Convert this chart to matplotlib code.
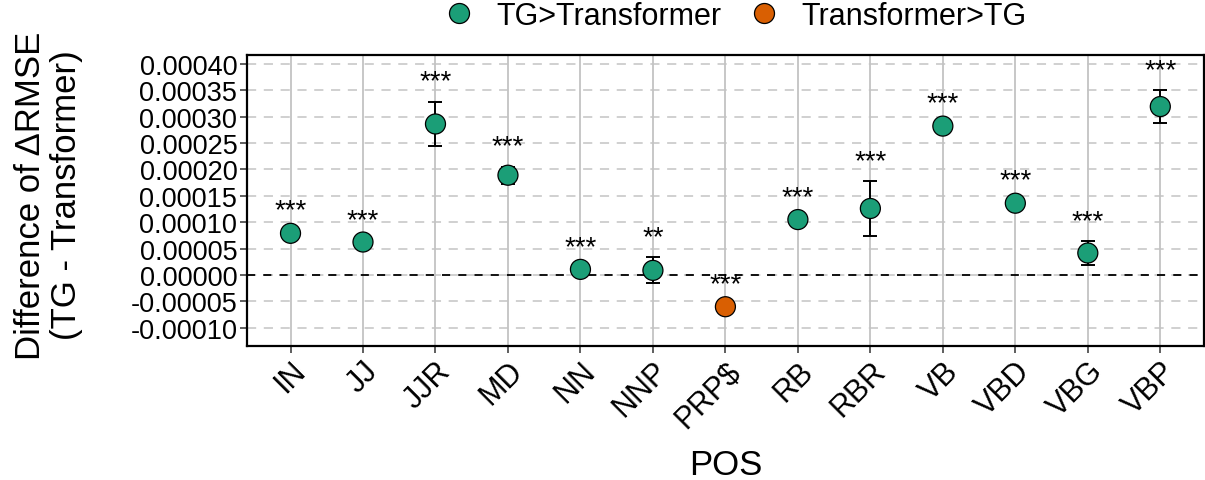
import matplotlib
matplotlib.use('Agg')
import matplotlib.pyplot as plt
from matplotlib.lines import Line2D

plt.rcParams['font.family'] = ['Liberation Sans', 'DejaVu Sans']

# POS categories and the difference in delta RMSE (TG - Transformer)
pos = ['IN', 'JJ', 'JJR', 'MD', 'NN', 'NNP', 'PRP$', 'RB', 'RBR', 'VB', 'VBD', 'VBG', 'VBP']
diff = [7.9e-5, 6.25e-5, 28.6e-5, 18.9e-5, 1.07e-5, 0.88e-5, -6.0e-5,
        10.5e-5, 12.6e-5, 28.2e-5, 13.6e-5, 4.17e-5, 31.9e-5]
se = [0.5e-5, 0.4e-5, 4.25e-5, 1.6e-5, 0.4e-5, 2.45e-5, 0.4e-5,
      0.5e-5, 5.15e-5, 0.5e-5, 0.5e-5, 2.2e-5, 3.1e-5]
sig = ['***', '***', '***', '***', '***', '**', '***',
       '***', '***', '***', '***', '***', '***']
yticks = [-0.0001, -0.00005, 0.0, 0.00005, 0.0001, 0.00015, 0.0002,
          0.00025, 0.0003, 0.00035, 0.0004]

green = '#1B9E77'
orange = '#D95F02'

fig = plt.figure(figsize=(12.05, 4.81), dpi=100)
ax = fig.add_axes([0.205, 0.279, 0.794, 0.605])

xs = list(range(len(pos)))
cols = [green if d > 0 else orange for d in diff]

ax.axhline(0, color='black', ls=(0, (4.5, 4.5)), lw=1.3, zorder=1)
ax.errorbar(xs, diff, yerr=se, fmt='none', ecolor='black', elinewidth=1.4,
            capsize=4.7, capthick=1.4, zorder=2)
ax.scatter(xs, diff, s=14.4 ** 2, c=cols, edgecolors='black', linewidths=0.9, zorder=3)

for x, d, e, s in zip(xs, diff, se, sig):
    ax.annotate(s, (x, d + e), xytext=(0, 9.5), textcoords='offset points',
                ha='center', va='baseline', fontsize=20)

ax.set_xlim(-0.6, len(pos) - 0.4)
ax.set_ylim(-0.000134, 0.000417)
ax.set_xticks(xs)
ax.set_xticklabels(pos, rotation=45, ha='right', rotation_mode='anchor', fontsize=22)
ax.set_yticks(yticks)
ax.set_yticklabels([f'{v:.5f}' for v in yticks], fontsize=19.5)

ax.grid(axis='x', color='#bebebe', lw=1.2, zorder=0)
ax.grid(axis='y', color='#c4c4c4', lw=1.1, ls=(0, (6, 5)), zorder=0)
ax.set_axisbelow(True)
for sp in ax.spines.values():
    sp.set_linewidth(1.6)
ax.tick_params(direction='out', length=5, width=1.1, color='#333333', pad=2)

ax.set_xlabel('POS', fontsize=25)
ax.xaxis.set_label_coords(0.5, -0.35)
ax.set_ylabel('Difference of \u0394RMSE\n(TG - Transformer)', fontsize=25, linespacing=1.1)
ax.yaxis.set_label_coords(-0.1714, 0.52)

handles = [Line2D([], [], ls='none', marker='o', ms=14.4, mfc=green, mec='black', mew=0.9),
           Line2D([], [], ls='none', marker='o', ms=14.4, mfc=orange, mec='black', mew=0.9)]
fig.legend(handles, ['TG>Transformer', 'Transformer>TG'], loc='center',
           bbox_to_anchor=(0.61, 0.965), ncol=2, frameon=False, fontsize=22,
           handlelength=1.0, handletextpad=0.74, columnspacing=0.87,
           borderpad=0, borderaxespad=0)

fig.savefig('out.png', dpi=100)
